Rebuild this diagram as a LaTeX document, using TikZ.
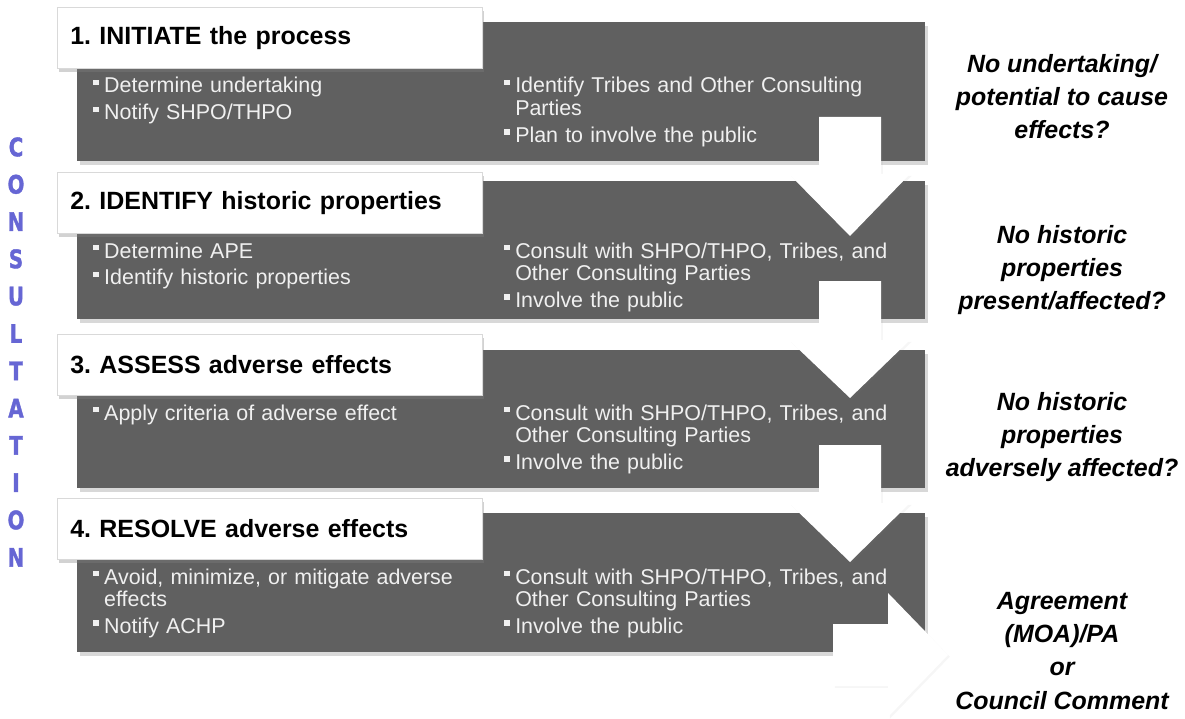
\documentclass[tikz,border=0pt]{standalone}
\usepackage{fontspec}
\usepackage{graphicx}
\setmainfont{Liberation Sans}
\newfontfamily\consfont{DejaVu Sans}[BoldFeatures={FakeBold=1.6}]
\usetikzlibrary{calc, positioning}
\usetikzlibrary{shadows}

\definecolor{panelgray}{RGB}{96,96,96}
\definecolor{bodywhite}{RGB}{240,240,240}
\definecolor{consblue}{RGB}{102,102,212}

\def\px{0.02cm}
\newcommand{\bul}{\leftskip=6.2pt\relax\leavevmode\llap{\rule[4.6pt]{3pt}{3pt}\hspace{3.2pt}}}

\tikzset{
  panel/.style={fill=panelgray, drop shadow={shadow xshift=1.5pt, shadow yshift=-2pt, opacity=0.3}},
  titlebox/.style={draw=gray!30, fill=white, anchor=north west,
    minimum width={425*\px}, minimum height={61*\px}, text width={399*\px},
    inner xsep={13*\px}, inner ysep=0pt, align=left,
    font=\fontsize{14.2pt}{16pt}\selectfont\bfseries\frenchspacing,
    drop shadow={shadow xshift=1pt, shadow yshift=-2pt, opacity=0.35}},
  body/.style={anchor=base west, inner sep=0pt, text width={410*\px}, align=left,
    text=bodywhite, font=\fontsize{12.2pt}{13pt}\selectfont},
  arrowshadow/.style={drop shadow={shadow xshift=1pt, shadow yshift=-1pt, opacity=0.07}},
  outcome/.style={align=center, inner sep=0pt,
    font=\fontsize{14.2pt}{18.8pt}\selectfont\bfseries\itshape},
  consletter/.style={text=consblue, inner sep=0pt,
    font=\consfont\fontsize{14.5pt}{14.5pt}\bfseries}
}

\begin{document}
\begin{tikzpicture}[x=0.02cm, y=-0.02cm]
% Canvas
\fill[white] (0,0) rectangle (1185,719);
\useasboundingbox (0,0) rectangle (1185,719);

% Gray step panels
\foreach \ptop/\pbot in {22/161, 181/319, 350/488, 513/652}
  \fill[panel] (77,\ptop) rectangle (925,\pbot);

% Step titles
\node[titlebox] (s1) at (57,7) {1. INITIATE the process};
\node[titlebox] (s2) at (57,172) {2. IDENTIFY historic properties};
\node[titlebox] (s3) at (57,334) {3. ASSESS adverse effects};
\node[titlebox] (s4) at (57,498) {4. RESOLVE adverse effects};

% Bullet lists, left column
\node[body] (s1a) at (93,93) {\bul Determine undertaking\\[2.3pt]\bul Notify SHPO/THPO\par};
\node[body] (s2a) at (93,258) {\bul Determine APE\\[2.3pt]\bul Identify historic properties\par};
\node[body] (s3a) at (93,420) {\bul Apply criteria of adverse effect\par};
\node[body] (s4a) at (93,584) {\bul Avoid, minimize, or mitigate adverse\\effects\\[2.3pt]\bul Notify ACHP\par};

% Bullet lists, right column
\node[body] (s1b) at (504,93) {\bul Identify Tribes and Other Consulting\\Parties\\[2.3pt]\bul Plan to involve the public\par};
\node[body] (s2b) at (504,258) {\bul Consult with SHPO/THPO, Tribes, and\\Other Consulting Parties\\[2.3pt]\bul Involve the public\par};
\node[body] (s3b) at (504,420) {\bul Consult with SHPO/THPO, Tribes, and\\Other Consulting Parties\\[2.3pt]\bul Involve the public\par};
\node[body] (s4b) at (504,584) {\bul Consult with SHPO/THPO, Tribes, and\\Other Consulting Parties\\[2.3pt]\bul Involve the public\par};

% Block arrows between steps
\foreach \st/\hb/\tp in {117/174/236, 281/340/398, 445/503/562}
  \fill[white, arrowshadow] (819,\st) -- (881,\st) -- (881,\hb) -- (910,\hb)
    -- (850,\tp) -- (789,\hb) -- (819,\hb) -- cycle;

% Last arrow to the outcome
\fill[white, arrowshadow] (833,624) -- (888,624) -- (888,593) -- (948,655)
  -- (888,717) -- (888,686) -- (833,686) -- cycle;

% Outcomes
\node[outcome] (o1) at (1062,97) {No undertaking/\\potential to cause\\effects?};
\node[outcome] (o2) at (1062,270) {No historic\\properties\\present/affected?};
\node[outcome] (o3) at (1062,437) {No historic\\properties\\adversely affected?};
\node[outcome] (o4) at (1062,651) {Agreement\\(MOA)/PA\\or\\Council Comment};

% CONSULTATION down the left side
\foreach \l [count=\i from 0] in {C,O,N,S,U,L,T,A,T,I,O,N}
  \node[consletter] (c\i) at (16,{147+37.3*\i}) {\scalebox{0.78}[1]{\l}};
\end{tikzpicture}
\end{document}
